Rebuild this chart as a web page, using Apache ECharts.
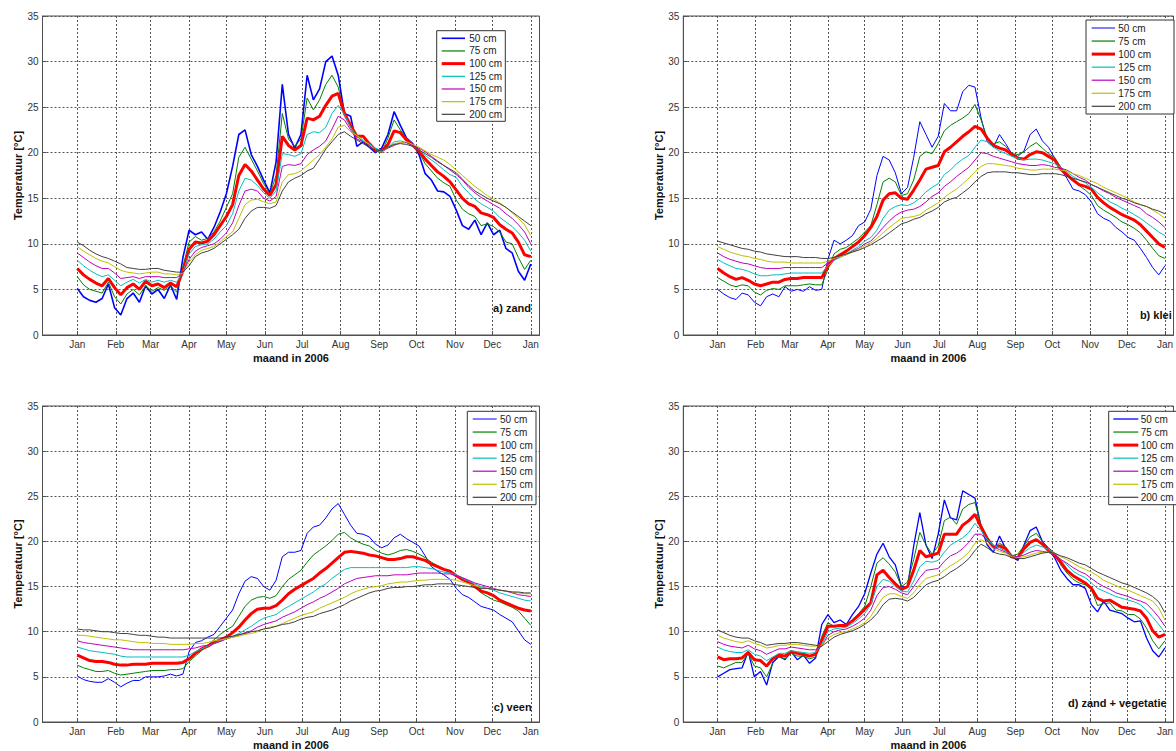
<!DOCTYPE html>
<html><head><meta charset="utf-8">
<script src="https://cdn.jsdelivr.net/npm/echarts@6/dist/echarts.min.js"></script>
<style>html,body{margin:0;padding:0;background:#fff}#c{width:1176px;height:751px}</style>
</head><body><div id="c"></div>
<script>
// day of year 2006 (0 = 1 Jan)
const days = [0,5,10,15,20,25,30,35,40,45,50,55,60,65,70,75,80,85,90,95,100,105,110,115,120,125,130,135,140,145,150,155,160,165,170,175,180,185,190,195,200,205,210,215,220,225,230,235,240,245,250,255,260,265,270,275,280,285,290,295,300,305,310,315,320,325,330,335,340,345,350,355,360,365];
const monthTicks = [0,31,59,90,120,151,181,212,243,273,304,334,365];
const monthLabels = ['Jan','Feb','Mar','Apr','May','Jun','Jul','Aug','Sep','Oct','Nov','Dec','Jan'];
const depthLabels = ['50 cm','75 cm','100 cm','125 cm','150 cm','175 cm','200 cm'];
const yTicks = [0,5,10,15,20,25,30,35];

// a) zand
const zand50  = [5.1,4.2,3.8,3.6,4.0,5.6,3.0,2.2,4.0,4.6, 3.6,5.4,4.5,5.0,4.0,5.5,3.9,8.5,11.5,11.0, 11.3,10.5,11.8,13.5,15.5,18.5,22.0,22.5,19.8,18.5, 17.0,15.6,19.0,27.5,22.0,20.5,22.0,28.5,25.8,27.0, 30.0,30.6,28.5,24.3,24.0,20.7,21.2,20.6,20.0,20.5, 22.0,24.5,23.0,21.6,21.0,19.8,17.7,17.0,15.8,15.7, 15.2,13.7,12.0,11.6,12.6,11.0,12.3,11.0,11.5,9.5, 9.0,7.0,6.0,7.8];
const zand75  = [6.4,5.5,5.0,4.8,4.6,5.8,4.2,3.4,4.5,5.0, 4.4,5.4,4.8,5.2,4.9,5.4,4.7,7.5,10.2,10.8, 10.4,10.6,11.3,12.5,14.0,15.5,19.5,20.6,19.3,18.0, 16.6,15.5,17.5,24.3,21.5,20.7,21.5,26.0,24.7,25.8, 27.5,28.5,27.2,24.5,22.8,21.8,21.2,20.8,20.2,20.0, 21.6,23.6,22.5,21.6,21.0,20.0,18.8,18.0,17.2,16.7, 16.3,14.8,13.8,13.3,13.0,12.0,12.2,11.9,11.3,10.2, 10.0,8.5,7.2,8.2];
const zand100 = [7.3,6.6,6.1,5.7,5.4,6.2,5.2,4.4,5.2,5.6, 5.0,5.9,5.4,5.6,5.2,5.7,5.3,7.0,9.4,10.2, 10.1,10.3,11.0,12.0,13.0,14.3,17.5,18.7,18.0,17.0, 16.0,15.3,16.5,21.8,20.8,20.3,20.8,23.8,23.6,24.0, 25.2,26.2,26.5,24.3,23.0,21.8,21.8,21.0,20.3,20.2, 20.9,22.4,22.2,21.4,20.8,20.2,19.3,18.6,17.9,17.4, 16.8,15.9,15.0,14.4,14.1,13.4,13.2,12.9,12.1,11.6, 11.2,10.2,8.8,8.6];
const zand125 = [8.2,7.6,7.1,6.7,6.4,6.6,6.0,5.4,5.8,6.1, 5.7,6.1,5.8,6.0,5.8,6.0,5.8,6.9,8.9,9.7, 9.9,10.0,10.5,11.3,12.0,13.3,15.8,17.2,17.0,16.4, 15.6,15.0,15.8,19.9,19.8,19.6,19.9,22.0,22.3,22.2, 22.8,24.3,25.2,24.2,22.8,21.8,21.3,21.0,20.5,20.2, 20.6,21.2,21.3,21.1,20.7,20.3,19.7,19.2,18.7,18.1, 17.6,17.3,16.3,15.6,14.9,14.4,14.0,13.6,12.9,12.4, 11.9,11.2,10.4,9.2];
const zand150 = [9.0,8.5,8.0,7.6,7.3,7.3,6.8,6.2,6.3,6.4, 6.2,6.4,6.4,6.4,6.3,6.3,6.3,6.8,8.3,9.2, 9.6,9.8,10.0,10.5,11.2,12.3,14.2,15.8,16.0,15.8, 15.0,14.7,15.2,18.5,18.7,18.6,18.8,19.8,20.3,20.7, 21.3,22.6,24.0,23.6,22.5,21.5,21.2,20.8,20.3,20.1, 20.5,20.8,21.1,21.1,20.8,20.5,20.1,19.6,19.1,18.6, 18.1,17.6,17.0,16.2,15.6,15.1,14.7,14.3,13.9,13.3, 12.8,12.1,11.3,10.0];
const zand175 = [9.7,9.2,8.8,8.4,8.1,7.9,7.5,7.1,6.9,6.8, 6.7,6.8,6.9,6.9,6.7,6.7,6.6,6.8,8.0,8.8, 9.3,9.5,9.7,10.2,10.8,11.3,12.8,14.3,14.8,14.9, 14.6,14.4,14.6,16.8,17.6,17.7,18.0,18.6,19.2,19.8, 20.6,21.5,22.8,23.0,22.3,21.9,21.4,20.9,20.3,20.1, 20.6,21.0,21.1,21.2,20.9,20.6,20.2,19.8,19.5,19.2, 18.7,18.1,17.5,16.9,16.3,15.8,15.3,14.9,14.5,14.0, 13.4,12.8,12.1,10.9];
const zand200 = [10.2,9.8,9.3,8.9,8.6,8.4,8.1,7.8,7.4,7.3, 7.2,7.2,7.3,7.3,7.1,7.0,6.9,6.9,7.6,8.6, 9.0,9.2,9.5,10.0,10.5,11.0,11.6,12.8,13.6,14.0, 14.0,13.9,14.2,15.8,16.8,17.2,17.5,18.0,18.3,19.3, 20.4,21.2,22.0,22.3,21.8,21.4,21.0,20.6,20.3,20.2, 20.6,20.9,21.0,20.9,20.7,20.3,19.9,19.5,19.0,18.6, 18.2,17.8,17.1,16.4,15.8,15.4,15.0,14.7,14.4,14.0, 13.5,13.0,12.5,12.0];

// b) klei
const klei50  = [5.0,4.5,4.1,3.9,4.6,4.4,3.6,3.2,4.2,4.5, 4.2,5.3,4.8,5.0,4.8,5.3,4.9,5.0,8.3,10.4, 10.0,10.4,10.9,12.0,12.4,13.8,17.5,19.6,19.2,17.8, 15.5,16.2,19.5,23.4,22.0,20.6,21.8,25.4,24.6,24.6, 26.7,27.4,27.2,23.8,21.2,20.6,22.0,21.0,19.9,19.6, 20.2,22.0,22.6,21.3,20.6,19.4,18.2,17.2,16.0,15.8, 15.4,14.6,13.3,12.8,12.5,11.8,11.3,10.7,10.4,9.5, 8.5,7.4,6.6,7.6];
const klei75  = [6.3,5.9,5.5,5.3,5.5,5.4,4.7,4.4,4.9,5.1, 5.0,5.4,5.4,5.4,5.5,5.6,5.5,5.5,7.2,8.9, 9.4,9.6,10.1,10.6,11.3,12.0,14.3,16.8,17.2,16.8, 15.3,15.5,17.0,19.6,20.1,19.9,21.0,22.4,23.0,23.4, 23.8,24.3,25.3,23.6,21.6,21.0,21.2,20.7,19.9,19.8, 20.1,20.7,21.1,20.5,19.9,19.5,18.4,17.5,16.9,16.4, 15.9,15.3,14.2,13.7,13.3,12.9,12.4,12.1,11.7,11.2, 10.4,9.5,8.7,8.4];
const klei100 = [7.3,6.8,6.4,6.1,6.3,6.0,5.6,5.4,5.6,5.8, 5.8,6.1,6.2,6.2,6.3,6.3,6.3,6.3,7.6,8.4, 8.8,9.2,9.7,10.2,10.9,11.8,13.0,14.8,15.5,15.6, 15.0,14.9,15.9,17.0,18.2,18.4,18.6,20.1,20.6,21.2, 21.8,22.3,22.9,22.6,21.6,20.8,20.5,20.3,19.8,19.4, 19.3,19.8,20.1,20.0,19.6,19.2,18.2,17.6,17.0,16.5, 16.3,16.0,15.1,14.5,14.0,13.6,13.2,12.9,12.6,12.1, 11.4,10.7,10.0,9.6];
const klei125 = [8.3,7.9,7.6,7.3,7.2,7.0,6.7,6.5,6.5,6.6, 6.6,6.7,6.8,6.8,6.8,6.8,6.8,6.8,7.6,8.2, 8.5,8.9,9.3,9.7,10.3,10.7,11.5,12.8,13.7,14.1, 14.3,14.2,14.5,15.0,15.7,16.2,16.6,17.6,18.1,18.8, 19.3,19.7,20.6,21.4,21.2,20.6,20.2,19.9,19.6,19.4, 19.2,19.3,19.3,19.2,19.0,18.8,18.4,17.9,17.4,17.0, 16.7,16.2,15.6,15.1,14.6,14.3,13.9,13.6,13.2,12.8, 12.3,11.8,11.3,10.9];
const klei150 = [9.0,8.6,8.3,8.1,7.9,7.8,7.6,7.4,7.3,7.3, 7.3,7.4,7.4,7.4,7.4,7.4,7.4,7.4,7.9,8.3, 8.6,8.8,9.2,9.5,10.0,10.3,11.0,11.8,12.5,13.1, 13.5,13.7,13.8,14.1,14.6,15.2,15.6,16.3,16.8,17.4, 17.9,18.4,19.2,20.0,19.9,19.6,19.4,19.2,19.0,18.8, 18.7,18.6,18.6,18.7,18.6,18.4,18.3,18.1,17.7,17.3, 17.0,16.5,16.2,15.8,15.5,15.1,14.8,14.5,14.2,13.9, 13.3,12.9,12.4,11.8];
const klei175 = [9.7,9.4,9.1,8.9,8.7,8.6,8.4,8.3,8.1,8.0, 8.0,8.0,7.9,7.9,7.9,7.9,7.9,7.9,8.1,8.4, 8.6,8.8,9.1,9.4,9.8,10.1,10.6,11.2,11.8,12.3, 12.8,12.9,13.0,13.2,13.7,14.1,14.5,15.1,15.6,16.0, 16.6,17.2,17.9,18.5,18.8,18.8,18.7,18.6,18.5,18.3, 18.2,18.1,18.1,18.2,18.2,18.2,18.1,18.0,17.7,17.5, 17.2,16.9,16.6,16.2,15.9,15.6,15.3,15.0,14.6,14.3, 14.1,13.7,13.3,12.8];
const klei200 = [10.3,10.1,9.9,9.7,9.5,9.4,9.2,9.1,8.9,8.8, 8.7,8.6,8.6,8.6,8.5,8.5,8.5,8.4,8.4,8.5, 8.7,8.9,9.1,9.3,9.6,9.9,10.3,10.7,11.2,11.7, 12.2,12.4,12.7,12.9,13.3,13.6,14.0,14.6,14.9,15.1, 15.6,16.1,16.8,17.4,17.8,17.9,17.9,17.9,17.8,17.8, 17.7,17.6,17.6,17.7,17.7,17.7,17.6,17.4,17.2,17.0, 16.8,16.5,16.2,15.9,15.6,15.3,15.0,14.8,14.5,14.3, 14.1,13.8,13.6,13.3];

// c) veen
const veen50  = [5.1,4.7,4.5,4.4,4.4,4.8,4.4,3.9,4.3,4.6, 4.6,5.0,5.0,5.0,5.1,5.3,5.1,5.3,7.8,8.8, 9.0,9.4,9.7,10.6,11.5,12.4,14.2,15.6,16.1,15.9, 15.0,14.6,15.7,18.3,18.8,18.8,19.0,20.9,21.6,21.8, 22.6,23.6,24.2,23.0,21.8,20.9,20.8,20.5,19.7,19.3, 19.6,20.4,20.8,20.3,19.9,19.5,18.4,17.2,16.7,16.3, 15.8,14.8,14.1,13.8,13.3,12.8,12.6,12.4,11.9,11.5, 11.1,10.1,9.1,8.6];
const veen75  = [6.3,6.0,5.8,5.6,5.6,5.7,5.4,5.2,5.3,5.4, 5.5,5.6,5.7,5.7,5.7,5.8,5.8,5.9,6.7,7.3, 7.9,8.5,9.1,9.7,10.2,10.6,11.7,12.8,13.5,13.8, 13.9,13.7,14.0,15.0,15.8,16.3,16.8,17.7,18.5,19.0, 19.5,20.1,20.8,21.0,20.4,20.0,19.7,19.5,19.0,18.7, 18.5,18.7,19.0,19.1,18.9,18.6,18.2,17.7,17.3,16.9, 16.6,16.3,15.9,15.5,14.9,14.3,13.9,13.5,13.3,13.0, 12.7,12.3,11.5,10.7];
const veen100 = [7.4,7.1,6.8,6.7,6.7,6.6,6.4,6.3,6.3,6.4, 6.4,6.4,6.5,6.5,6.5,6.5,6.5,6.6,7.0,7.6, 8.1,8.4,8.8,9.1,9.4,9.9,10.5,11.3,12.0,12.5, 12.6,12.6,12.9,13.5,14.2,14.7,15.1,15.5,15.9,16.5, 17.0,17.6,18.2,18.8,18.9,18.8,18.7,18.5,18.4,18.2, 18.0,18.0,18.1,18.3,18.3,18.1,17.9,17.5,17.2,16.9, 16.7,16.2,15.8,15.5,15.0,14.5,14.3,14.0,13.5,13.2, 12.9,12.6,12.4,12.3];
const veen125 = [8.3,8.1,7.9,7.8,7.7,7.6,7.5,7.3,7.2,7.2, 7.2,7.2,7.2,7.2,7.2,7.2,7.2,7.2,7.4,7.8, 8.1,8.4,8.7,9.0,9.3,9.5,9.8,10.2,10.6,11.1, 11.5,11.7,11.9,12.4,12.8,13.2,13.6,14.0,14.4,14.9, 15.3,15.9,16.4,16.9,17.1,17.1,17.1,17.1,17.1,17.1, 17.1,17.1,17.1,17.1,17.2,17.2,17.1,17.0,16.8,16.6, 16.5,16.3,15.9,15.6,15.3,15.0,14.8,14.6,14.3,14.1, 13.9,13.7,13.5,13.4];
const veen150 = [9.0,8.8,8.7,8.6,8.5,8.4,8.3,8.2,8.1,8.0, 8.0,8.0,8.0,8.0,8.0,8.0,8.0,8.0,8.1,8.2, 8.4,8.5,8.7,8.9,9.2,9.4,9.6,9.9,10.1,10.5, 10.8,11.0,11.2,11.6,11.9,12.2,12.6,13.0,13.3,13.7, 14.0,14.4,14.8,15.3,15.6,15.9,16.0,16.1,16.2,16.2, 16.2,16.3,16.3,16.3,16.4,16.5,16.5,16.5,16.5,16.4, 16.4,16.2,16.0,15.7,15.4,15.2,15.0,14.8,14.6,14.5, 14.3,14.1,14.0,13.9];
const veen175 = [9.6,9.6,9.5,9.4,9.3,9.2,9.1,9.1,9.0,8.9, 8.8,8.8,8.7,8.7,8.7,8.6,8.6,8.6,8.6,8.7, 8.7,8.8,9.0,9.1,9.2,9.4,9.5,9.7,9.8,10.0, 10.3,10.5,10.6,10.9,11.2,11.5,11.8,12.0,12.2,12.6, 12.9,13.2,13.5,13.8,14.2,14.5,14.7,14.9,15.0,15.1, 15.3,15.4,15.5,15.5,15.6,15.7,15.7,15.8,15.8,15.8, 15.8,15.7,15.5,15.3,15.1,14.9,14.8,14.7,14.6,14.5, 14.4,14.3,14.2,14.2];
const veen200 = [10.3,10.2,10.2,10.1,10.0,10.0,9.9,9.8,9.8,9.7, 9.6,9.6,9.5,9.4,9.4,9.3,9.3,9.3,9.3,9.3, 9.3,9.3,9.3,9.3,9.4,9.5,9.7,9.8,10.0,10.1, 10.3,10.4,10.6,10.8,10.9,11.1,11.4,11.6,11.7,12.0, 12.2,12.4,12.7,13.0,13.4,13.7,14.0,14.3,14.5,14.6, 14.8,14.9,14.9,15.0,15.0,15.1,15.2,15.2,15.3,15.3, 15.3,15.2,15.1,15.0,14.9,14.8,14.8,14.7,14.6,14.5, 14.4,14.4,14.3,14.3];

// d) zand + vegetatie
const veg50  = [5.0,5.4,5.8,5.9,6.0,7.8,5.0,5.6,4.1,6.6, 7.3,6.9,7.8,6.9,7.4,6.5,7.1,10.8,11.9,11.0, 11.3,10.8,11.9,12.8,14.2,16.5,18.6,19.8,18.3,17.4, 15.0,15.0,19.5,23.2,19.6,18.1,20.8,24.6,22.6,22.4, 25.6,25.2,24.8,21.6,19.6,18.8,20.6,19.2,18.3,17.9, 19.6,21.2,21.6,20.0,19.1,18.2,16.8,15.9,15.2,15.2, 14.8,13.0,12.2,13.4,12.4,12.2,12.0,11.5,11.1,11.2, 9.3,7.9,7.2,8.2];
const veg75  = [6.2,6.0,6.3,6.6,6.6,7.6,6.2,6.0,5.0,6.5, 7.2,7.0,7.6,7.3,7.3,7.0,7.2,9.5,11.0,10.6, 10.8,10.6,11.3,12.0,12.8,15.0,17.6,18.2,17.5,16.6, 15.0,15.5,18.0,21.0,19.6,18.6,19.5,22.3,22.7,21.9, 23.6,24.1,24.3,21.8,20.5,19.2,19.8,19.4,18.4,18.6, 19.5,20.5,20.9,20.0,19.3,18.7,17.4,16.5,15.8,15.4, 15.2,14.7,12.9,13.1,13.2,12.4,12.3,11.9,11.9,11.4, 10.4,9.0,8.1,9.0];
const veg100 = [7.2,6.9,7.0,7.0,7.1,7.7,6.9,6.8,6.2,7.0, 7.4,7.3,7.8,7.6,7.5,7.3,7.5,9.0,10.6,10.6, 10.7,10.7,11.2,11.8,12.5,13.2,16.3,16.8,16.0,15.3, 14.7,15.0,16.8,19.0,18.3,18.5,18.7,20.8,20.8,20.8, 21.8,22.3,23.0,21.6,20.3,19.4,19.5,19.2,18.3,18.2, 19.2,19.9,20.2,19.7,19.0,18.5,17.7,16.8,16.2,15.8, 15.4,14.8,13.7,13.4,13.5,13.1,12.7,12.6,12.5,12.3, 11.5,10.1,9.4,9.7];
const veg125 = [8.3,8.0,7.8,7.7,7.7,8.0,7.5,7.3,6.8,7.2, 7.6,7.6,7.9,7.8,7.7,7.6,7.7,8.6,10.0,10.3, 10.4,10.5,10.9,11.4,12.0,13.0,15.0,15.8,15.6,15.0, 14.5,14.4,15.6,17.2,17.8,17.7,17.9,18.8,19.6,20.0, 20.4,21.0,22.0,21.2,20.2,19.6,19.3,18.9,18.5,18.2, 18.8,19.3,19.6,19.4,19.1,18.7,18.0,17.4,16.7,16.3, 16.0,15.4,14.8,14.5,14.2,13.9,13.7,13.5,13.3,13.0, 12.4,11.6,10.8,9.9];
const veg150 = [8.9,8.6,8.4,8.3,8.2,8.5,8.1,7.9,7.5,7.8, 8.1,8.1,8.3,8.2,8.1,8.0,8.0,8.4,9.6,10.0, 10.2,10.3,10.6,11.0,11.5,12.4,14.0,14.9,15.0,14.7, 14.3,14.1,15.0,16.0,16.8,16.9,17.0,17.8,18.4,18.7, 19.2,19.9,20.8,20.8,20.1,19.4,19.1,18.8,18.4,18.3, 18.5,18.8,19.0,18.9,18.8,18.5,18.0,17.6,17.1,16.7, 16.4,15.9,15.4,15.0,14.7,14.3,14.1,13.9,13.6,13.4, 13.1,12.4,11.6,10.6];
const veg175 = [9.6,9.3,9.1,8.9,8.8,9.0,8.7,8.5,8.2,8.3, 8.5,8.5,8.6,8.6,8.5,8.4,8.4,8.5,9.3,9.7, 9.9,10.0,10.3,10.6,11.0,11.7,12.8,13.8,14.2,14.2, 13.9,13.7,14.3,15.2,15.9,16.1,16.3,16.8,17.3,17.7, 18.2,18.8,19.8,20.2,19.8,19.2,18.9,18.7,18.3,18.2, 18.3,18.5,18.7,18.8,18.8,18.7,18.3,18.0,17.6,17.2, 16.9,16.6,16.2,15.7,15.4,15.1,14.8,14.6,14.3,14.0, 13.7,13.4,12.6,11.3];
const veg200 = [10.2,9.9,9.6,9.4,9.3,9.3,9.0,8.8,8.5,8.6, 8.7,8.7,8.8,8.8,8.7,8.6,8.5,8.4,8.9,9.4, 9.7,9.9,10.1,10.4,10.8,11.3,12.0,13.0,13.6,13.7, 13.6,13.4,13.8,14.5,15.2,15.5,15.7,16.1,16.6,17.0, 17.5,18.1,19.0,19.7,19.3,18.8,18.6,18.5,18.2,18.1, 18.1,18.3,18.5,18.7,18.8,18.7,18.4,18.2,17.9,17.6, 17.4,17.0,16.6,16.3,16.0,15.7,15.4,15.2,14.9,14.6, 14.3,13.9,13.3,12.1];

const FONT = '"Liberation Sans", Arial, Helvetica, sans-serif';
const colors = ['#0000ff','#008000','#ff0000','#00bfbf','#bf00bf','#bfbf00','#404040'];

const panels = [
  {left:42.5, top:16, data:[zand50,zand75,zand100,zand125,zand150,zand175,zand200], blueW:1.6,
   note:'a) zand', noteX:531, noteY:308,
   lg:{x:436.7,y:30.7,w:68.6,h:90.6,l1:441.7,l2:465,tx:469.3,ty:38.3,dy:12.67}},
  {left:683.3, top:16, data:[klei50,klei75,klei100,klei125,klei150,klei175,klei200], blueW:1,
   note:'b) klei', noteX:1171.7, noteY:315,
   lg:{x:1086,y:20,w:88,h:94,l1:1091.7,l2:1115,tx:1118.3,ty:28,dy:13.05}},
  {left:42.5, top:406, data:[veen50,veen75,veen100,veen125,veen150,veen175,veen200], blueW:1,
   note:'c) veen', noteX:531.7, noteY:706.7,
   lg:{x:467.3,y:411.3,w:68.7,h:93.4,l1:472.7,l2:496.7,tx:500,ty:419,dy:13.05}},
  {left:683.3, top:406, data:[veg50,veg75,veg100,veg125,veg150,veg175,veg200], blueW:1.3,
   note:'d) zand + vegetatie', noteX:1166.7, noteY:703.3,
   lg:{x:1108.7,y:411.3,w:80,h:93.4,l1:1113.3,l2:1138.3,tx:1140.7,ty:419,dy:13.05}}
];

const grids=[], xAxes=[], yAxes=[], series=[], elements=[];
panels.forEach((p,i)=>{
  grids.push({left:p.left, top:p.top, width:497, height:319, show:true,
    borderColor:'#505050', borderWidth:1, backgroundColor:'rgba(0,0,0,0)'});
  xAxes.push({type:'value', gridIndex:i, min:-28, max:372,
    axisLine:{show:true, onZero:false, lineStyle:{color:'#505050', width:1}},
    axisTick:{show:true, inside:true, length:4, customValues:monthTicks, lineStyle:{color:'#505050'}},
    axisLabel:{show:true, customValues:monthTicks, margin:4, fontSize:10, color:'#333', fontFamily:FONT,
      formatter:(v)=>{const k=monthTicks.indexOf(v); return k>=0?monthLabels[k]:'';}},
    splitLine:{show:true, lineStyle:{color:'#555', width:1, type:[2,2]}},
    name:'maand in 2006', nameLocation:'middle', nameGap:17,
    nameTextStyle:{fontFamily:FONT, fontSize:11, fontWeight:'bold', color:'#111'}});
  yAxes.push({type:'value', gridIndex:i, min:yTicks[0], max:yTicks[yTicks.length-1], interval:5,
    axisLine:{show:true, onZero:false, lineStyle:{color:'#505050', width:1}},
    axisTick:{show:true, inside:true, length:4, lineStyle:{color:'#505050'}},
    axisLabel:{margin:4, fontSize:10, color:'#333', fontFamily:FONT},
    splitLine:{show:true, lineStyle:{color:'#555', width:1, type:[2,2]}},
    name:'Temperatuur [°C]', nameLocation:'middle', nameGap:19, nameRotate:90,
    nameTextStyle:{fontFamily:FONT, fontSize:11, fontWeight:'bold', color:'#111'}});
  p.data.forEach((vals,k)=>{
    const w = k===0 ? p.blueW : (k===2 ? 3 : 1);
    series.push({type:'line', name:depthLabels[k], xAxisIndex:i, yAxisIndex:i,
      data: days.map((d,j)=>[d, vals[j]]), symbol:'none', showSymbol:false,
      lineStyle:{color:colors[k], width:w}, itemStyle:{color:colors[k]},
      silent:true, animation:false, z:2+k});
  });
  const L = p.lg;
  elements.push({type:'rect', shape:{x:L.x, y:L.y, width:L.w, height:L.h},
    style:{fill:'#fff', stroke:'#333', lineWidth:1}, z:100});
  depthLabels.forEach((lab,k)=>{
    const yy = L.ty + k*L.dy;
    const w = k===0 ? p.blueW : (k===2 ? 3 : 1.2);
    elements.push({type:'line', shape:{x1:L.l1, y1:yy, x2:L.l2, y2:yy},
      style:{stroke:colors[k], lineWidth:w}, z:101});
    elements.push({type:'text', x:L.tx, y:yy,
      style:{text:lab, fill:'#222', font:'10px '+FONT, align:'left', verticalAlign:'middle'}, z:101});
  });
  elements.push({type:'text', x:p.noteX, y:p.noteY,
    style:{text:p.note, fill:'#111', font:'bold 11px '+FONT, align:'right', verticalAlign:'middle'}, z:101});
});

const chart = echarts.init(document.getElementById('c'), null, {renderer:'svg', width:1176, height:751});
chart.setOption({
  animation:false,
  backgroundColor:'#ffffff',
  grid:grids, xAxis:xAxes, yAxis:yAxes, series:series,
  graphic:{elements:elements}
});
</script>
</body></html>
